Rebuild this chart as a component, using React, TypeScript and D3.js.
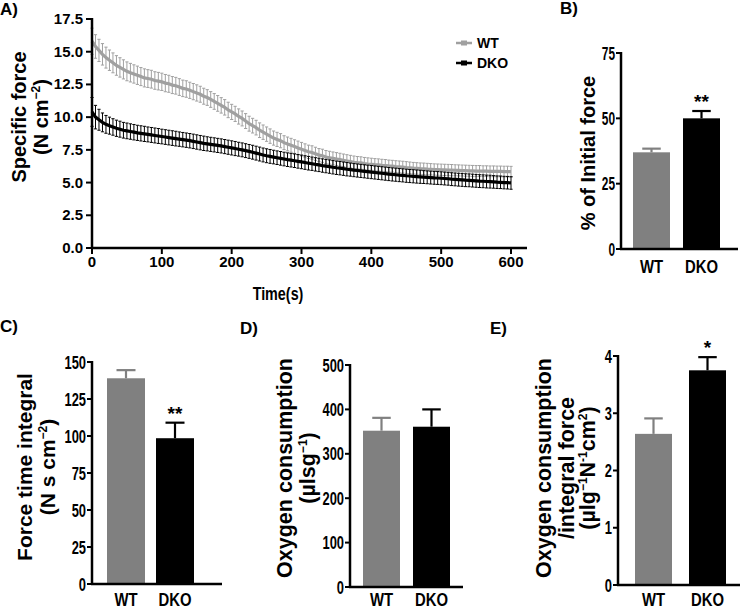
import React from 'react';
import * as d3 from 'd3';

const FONT = "'Liberation Sans', Arial, Helvetica, sans-serif";

// ---------- Panel A: specific force over time (sampled every 5 s) ----------
const TIME_STEP = 5;
const WT_FORCE = [
  15.8, 15.4, 15.1, 14.8, 14.55, 14.35, 14.15, 13.95, 13.8, 13.65,
  13.5, 13.4, 13.3, 13.2, 13.1, 13.0, 12.95, 12.9, 12.8, 12.75,
  12.7, 12.6, 12.55, 12.45, 12.4, 12.3, 12.2, 12.15, 12.05, 11.95,
  11.85, 11.75, 11.6, 11.5, 11.35, 11.2, 11.05, 10.9, 10.75, 10.55,
  10.4, 10.25, 10.05, 9.9, 9.7, 9.5, 9.35, 9.2, 9.0, 8.85,
  8.7, 8.55, 8.4, 8.3, 8.2, 8.05, 7.95, 7.85, 7.75, 7.65,
  7.55, 7.45, 7.35, 7.3, 7.2, 7.1, 7.05, 6.95, 6.9, 6.85,
  6.8, 6.75, 6.7, 6.65, 6.6, 6.55, 6.52, 6.5, 6.45, 6.42,
  6.4, 6.37, 6.35, 6.32, 6.3, 6.27, 6.25, 6.22, 6.2, 6.18,
  6.15, 6.13, 6.1, 6.08, 6.06, 6.05, 6.03, 6.02, 6.0, 5.99,
  5.98, 5.97, 5.96, 5.95, 5.94, 5.93, 5.92, 5.91, 5.9, 5.89,
  5.88, 5.88, 5.87, 5.87, 5.86, 5.86, 5.85, 5.85, 5.84, 5.84,
  5.83,
];
const WT_FORCE_ERR = [
  1.0, 0.9, 0.85, 0.82, 0.8, 0.78, 0.76, 0.75, 0.74, 0.73,
  0.72, 0.71, 0.7, 0.7, 0.69, 0.69, 0.68, 0.68, 0.67, 0.67,
  0.66, 0.66, 0.65, 0.65, 0.64, 0.64, 0.63, 0.63, 0.62, 0.62,
  0.62, 0.61, 0.61, 0.6, 0.6, 0.6, 0.6, 0.59, 0.59, 0.59,
  0.58, 0.58, 0.58, 0.57, 0.57, 0.57, 0.56, 0.56, 0.56, 0.55,
  0.55, 0.55, 0.54, 0.54, 0.54, 0.53, 0.53, 0.53, 0.52, 0.52,
  0.52, 0.51, 0.51, 0.51, 0.5, 0.5, 0.5, 0.5, 0.49, 0.49,
  0.49, 0.49, 0.48, 0.48, 0.48, 0.48, 0.47, 0.47, 0.47, 0.47,
  0.46, 0.46, 0.46, 0.46, 0.46, 0.45, 0.45, 0.45, 0.45, 0.45,
  0.45, 0.44, 0.44, 0.44, 0.44, 0.44, 0.44, 0.43, 0.43, 0.43,
  0.43, 0.43, 0.43, 0.43, 0.42, 0.42, 0.42, 0.42, 0.42, 0.42,
  0.42, 0.42, 0.41, 0.41, 0.41, 0.41, 0.41, 0.41, 0.41, 0.41,
  0.41,
];
const DKO_FORCE = [
  10.4, 10.0, 9.8, 9.6, 9.45, 9.35, 9.25, 9.15, 9.08, 9.0,
  8.95, 8.9, 8.85, 8.8, 8.76, 8.72, 8.68, 8.64, 8.6, 8.56,
  8.52, 8.48, 8.44, 8.4, 8.36, 8.32, 8.28, 8.24, 8.2, 8.15,
  8.1, 8.05, 8.0, 7.96, 7.92, 7.88, 7.84, 7.8, 7.75, 7.7,
  7.65, 7.6, 7.55, 7.5, 7.44, 7.38, 7.32, 7.25, 7.18, 7.11,
  7.05, 7.0, 6.95, 6.9, 6.85, 6.8, 6.75, 6.71, 6.67, 6.62,
  6.58, 6.53, 6.48, 6.44, 6.39, 6.35, 6.3, 6.26, 6.22, 6.17,
  6.13, 6.1, 6.06, 6.02, 5.99, 5.95, 5.92, 5.89, 5.86, 5.83,
  5.8, 5.77, 5.74, 5.71, 5.68, 5.65, 5.62, 5.6, 5.57, 5.55,
  5.52, 5.5, 5.48, 5.46, 5.44, 5.42, 5.4, 5.38, 5.36, 5.35,
  5.33, 5.31, 5.29, 5.26, 5.24, 5.22, 5.2, 5.18, 5.17, 5.15,
  5.13, 5.11, 5.1, 5.08, 5.07, 5.05, 5.03, 5.02, 5.0, 4.99,
  4.97,
];
const DKO_FORCE_ERR = [
  1.1, 0.9, 0.8, 0.72, 0.68, 0.65, 0.63, 0.62, 0.61, 0.6,
  0.6, 0.59, 0.59, 0.58, 0.58, 0.58, 0.57, 0.57, 0.57, 0.57,
  0.56, 0.56, 0.56, 0.56, 0.56, 0.55, 0.55, 0.55, 0.55, 0.55,
  0.55, 0.55, 0.55, 0.54, 0.54, 0.54, 0.54, 0.54, 0.54, 0.54,
  0.54, 0.54, 0.53, 0.53, 0.53, 0.53, 0.53, 0.53, 0.53, 0.53,
  0.53, 0.53, 0.52, 0.52, 0.52, 0.52, 0.52, 0.52, 0.52, 0.52,
  0.52, 0.52, 0.52, 0.51, 0.51, 0.51, 0.51, 0.51, 0.51, 0.51,
  0.51, 0.51, 0.51, 0.51, 0.5, 0.5, 0.5, 0.5, 0.5, 0.5,
  0.5, 0.5, 0.5, 0.5, 0.5, 0.5, 0.5, 0.5, 0.5, 0.5,
  0.5, 0.5, 0.5, 0.5, 0.5, 0.49, 0.49, 0.49, 0.49, 0.49,
  0.49, 0.49, 0.49, 0.49, 0.49, 0.49, 0.49, 0.49, 0.49, 0.49,
  0.49, 0.49, 0.49, 0.49, 0.49, 0.48, 0.48, 0.48, 0.48, 0.48,
  0.48,
];
const A_Y_TICKS = [0, 2.5, 5, 7.5, 10, 12.5, 15, 17.5];
const A_X_TICKS = [0, 100, 200, 300, 400, 500, 600];

// ---------- Bar panels ----------
const GROUPS = ['WT', 'DKO'];
const B_VALUES = [37, 50];
const B_ERRORS = [1.4, 2.8];
const B_SIG = ['', '**'];
const B_TICKS = [0, 25, 50, 75];

const C_VALUES = [139, 98.5];
const C_ERRORS = [5.5, 10.5];
const C_SIG = ['', '**'];
const C_TICKS = [0, 25, 50, 75, 100, 125, 150];

const D_VALUES = [352, 361];
const D_ERRORS = [29, 39];
const D_SIG = ['', ''];
const D_TICKS = [0, 100, 200, 300, 400, 500];

const E_VALUES = [2.64, 3.75];
const E_ERRORS = [0.27, 0.23];
const E_SIG = ['', '*'];
const E_TICKS = [0, 1, 2, 3, 4];

const WT_LINE = '#a0a0a0';
const WT_BAR = '#808080';
const DKO_COLOR = '#000000';

function NarrowText({ x, y, size, anchor = 'middle', sx = 0.74, children }: any) {
  return (
    <text
      transform={`translate(${x},${y}) scale(${sx},1)`}
      textAnchor={anchor}
      fontSize={size}
      fontWeight="bold"
      fontFamily={FONT}
    >
      {children}
    </text>
  );
}

function PanelA() {
  const x = d3.scaleLinear().domain([0, 600]).range([92, 511]);
  const y = d3.scaleLinear().domain([0, 17.5]).range([248, 19]);
  const series = [
    { name: 'WT', mean: WT_FORCE, err: WT_FORCE_ERR, color: WT_LINE },
    { name: 'DKO', mean: DKO_FORCE, err: DKO_FORCE_ERR, color: DKO_COLOR },
  ];
  const line = d3
    .line<number>()
    .x((_, i) => x(i * TIME_STEP))
    .y((d) => y(d))
    .curve(d3.curveLinear);
  const cap = 1.6;
  return (
    <g>
      {series.map((s) => (
        <g key={s.name}>
          <g stroke={s.color} strokeWidth={1} fill="none">
            {s.mean.map((m, i) => {
              const cx = x(i * TIME_STEP);
              const y1 = y(m + s.err[i]);
              const y2 = y(m - s.err[i]);
              return (
                <g key={i}>
                  <line x1={cx} x2={cx} y1={y1} y2={y2} />
                  <line x1={cx - cap} x2={cx + cap} y1={y1} y2={y1} />
                  <line x1={cx - cap} x2={cx + cap} y1={y2} y2={y2} />
                </g>
              );
            })}
          </g>
          <path d={line(s.mean) || ''} stroke={s.color} strokeWidth={3.2} fill="none" />
        </g>
      ))}
      {/* axes */}
      <line x1={92} x2={92} y1={y(17.5) - 1} y2={249} stroke="#000" strokeWidth={2.5} />
      <line x1={91} x2={527} y1={248} y2={248} stroke="#000" strokeWidth={2.5} />
      {A_Y_TICKS.map((t) => (
        <g key={t}>
          <line x1={86} x2={92} y1={y(t)} y2={y(t)} stroke="#000" strokeWidth={2} />
          <text
            x={83}
            y={y(t) + 5}
            textAnchor="end"
            fontSize={15}
            fontWeight="bold"
            fontFamily={FONT}
          >
            {d3.format('.1f')(t)}
          </text>
        </g>
      ))}
      {A_X_TICKS.map((t) => (
        <g key={t}>
          <line x1={x(t)} x2={x(t)} y1={248} y2={254} stroke="#000" strokeWidth={2} />
          <text x={x(t)} y={267} textAnchor="middle" fontSize={15} fontWeight="bold" fontFamily={FONT}>
            {t}
          </text>
        </g>
      ))}
      <NarrowText x={278} y={300} size={17.5} sx={0.82}>
        Time(s)
      </NarrowText>
      <text
        transform="translate(26,117) rotate(-90)"
        textAnchor="middle"
        fontSize={20}
        fontWeight="bold"
        fontFamily={FONT}
      >
        Specific force
      </text>
      <text
        transform="translate(48,117) rotate(-90)"
        textAnchor="middle"
        fontSize={20}
        fontWeight="bold"
        fontFamily={FONT}
      >
        (N cm
        <tspan dy={-8} fontSize={12}>
          −2
        </tspan>
        <tspan dy={8}>)</tspan>
      </text>
      {/* legend */}
      {series.map((s, i) => (
        <g key={s.name}>
          <line x1={456} x2={472} y1={43 + i * 20} y2={43 + i * 20} stroke={s.color} strokeWidth={2.5} />
          <rect x={461} y={40.5 + i * 20} width={6} height={5} fill={s.color} />
          <text x={477} y={48 + i * 20} fontSize={14} fontWeight="bold" fontFamily={FONT}>
            {s.name}
          </text>
        </g>
      ))}
    </g>
  );
}

function BarPanel({
  values,
  errors,
  sig,
  ticks,
  domainMax,
  yRange,
  band,
  axisX,
  axisRight,
  labelY,
  titleLines,
  titleX,
  titleY,
  titleSize,
  tickSize = 19,
}: any) {
  const y = d3.scaleLinear().domain([0, domainMax]).range(yRange);
  const x = d3
    .scaleBand<string>()
    .domain(GROUPS)
    .range(band.range)
    .paddingInner(band.pad)
    .paddingOuter(0);
  const bw = x.bandwidth();
  const y0 = y(0);
  return (
    <g fontFamily={FONT}>
      {GROUPS.map((g, i) => {
        const color = i === 0 ? WT_BAR : DKO_COLOR;
        const bx = x(g) as number;
        const cx = bx + bw / 2;
        const top = y(values[i]);
        const et = y(values[i] + errors[i]);
        return (
          <g key={g}>
            <line x1={cx} x2={cx} y1={top} y2={et} stroke={color} strokeWidth={2.2} />
            <line x1={cx - bw / 4} x2={cx + bw / 4} y1={et} y2={et} stroke={color} strokeWidth={2.2} />
            <rect x={bx} y={top} width={bw} height={y0 - top} fill={color} />
            {sig[i] ? (
              <text x={cx} y={et - 3} textAnchor="middle" fontSize={19} fontWeight="bold">
                {sig[i]}
              </text>
            ) : null}
            <NarrowText x={cx} y={labelY} size={17.5} sx={0.85}>
              {g}
            </NarrowText>
          </g>
        );
      })}
      <line x1={axisX} x2={axisX} y1={y(domainMax) - 1} y2={y0 + 1} stroke="#000" strokeWidth={2.5} />
      <line x1={axisX - 1} x2={axisRight} y1={y0} y2={y0} stroke="#000" strokeWidth={2.5} />
      {ticks.map((t: number) => (
        <g key={t}>
          <line x1={axisX - 5} x2={axisX} y1={y(t)} y2={y(t)} stroke="#000" strokeWidth={2} />
          <NarrowText x={axisX - 6} y={y(t) + 6.5} size={tickSize} anchor="end" sx={0.68}>
            {t}
          </NarrowText>
        </g>
      ))}
      {titleLines.map((ln: any, i: number) => (
        <text
          key={i}
          transform={`translate(${titleX[i]},${titleY}) rotate(-90)`}
          textAnchor="middle"
          fontSize={titleSize}
          fontWeight="bold"
        >
          {ln}
        </text>
      ))}
    </g>
  );
}

function Sup({ children }: any) {
  return (
    <tspan dy={-8} fontSize={12}>
      {children}
    </tspan>
  );
}

export default function App() {
  return (
    <svg
      width={740}
      height={608}
      style={{ position: 'absolute', left: 0, top: 0, background: '#fff' }}
    >
      <rect x={0} y={0} width={740} height={608} fill="#fff" />
      <g fontFamily={FONT} fontWeight="bold" fontSize={17}>
        <text x={0} y={15}>A)</text>
        <text x={560} y={14}>B)</text>
        <text x={0} y={332}>C)</text>
        <text x={240} y={334}>D)</text>
        <text x={490} y={334}>E)</text>
      </g>
      <PanelA />
      <BarPanel
        values={B_VALUES}
        errors={B_ERRORS}
        sig={B_SIG}
        ticks={B_TICKS}
        domainMax={75}
        yRange={[249, 53]}
        band={{ range: [633, 720], pad: 13 / 50 }}
        axisX={621}
        axisRight={738}
        labelY={273}
        titleLines={['% of Initial force']}
        titleX={[595]}
        titleY={153}
        titleSize={20}
        tickSize={17.5}
      />
      <BarPanel
        values={C_VALUES}
        errors={C_ERRORS}
        sig={C_SIG}
        ticks={C_TICKS}
        domainMax={150}
        yRange={[584, 362]}
        band={{ range: [107, 194], pad: 11 / 49 }}
        axisX={92}
        axisRight={222}
        labelY={606}
        titleLines={[
          'Force time integral',
          <>
            (N s cm<Sup>−2</Sup>
            <tspan dy={8}>)</tspan>
          </>,
        ]}
        titleX={[32, 55]}
        titleY={467}
        titleSize={21}
      />
      <BarPanel
        values={D_VALUES}
        errors={D_ERRORS}
        sig={D_SIG}
        ticks={D_TICKS}
        domainMax={500}
        yRange={[587, 365]}
        band={{ range: [363, 450], pad: 13 / 50 }}
        axisX={350}
        axisRight={463}
        labelY={606}
        titleLines={[
          'Oxygen consumption',
          <>
            (µlsg<Sup>−1</Sup>
            <tspan dy={8}>)</tspan>
          </>,
        ]}
        titleX={[292, 315]}
        titleY={468}
        titleSize={21.5}
      />
      <BarPanel
        values={E_VALUES}
        errors={E_ERRORS}
        sig={E_SIG}
        ticks={E_TICKS}
        domainMax={4}
        yRange={[585, 356]}
        band={{ range: [635, 726], pad: 17 / 54 }}
        axisX={618}
        axisRight={740}
        labelY={606}
        titleLines={[
          'Oxygen consumption',
          '/integral force',
          <>
            (µlg<Sup>−1</Sup>
            <tspan dy={8}>N</tspan>
            <Sup>-1</Sup>
            <tspan dy={8}>cm</tspan>
            <Sup>2</Sup>
            <tspan dy={8}>)</tspan>
          </>,
        ]}
        titleX={[551, 574, 595]}
        titleY={468}
        titleSize={21.5}
      />
    </svg>
  );
}
